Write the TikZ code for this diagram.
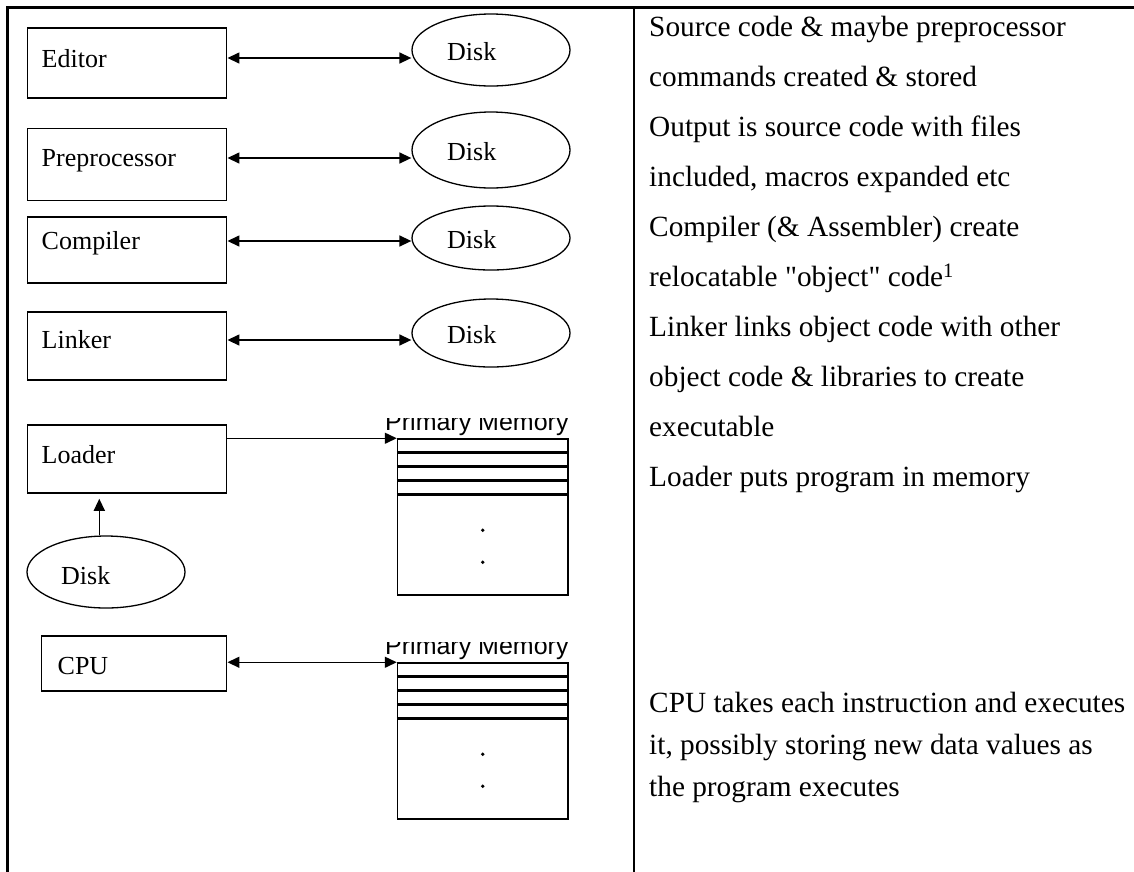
\documentclass[tikz,border=0pt]{standalone}
\usepackage{fontspec}
\setmainfont{Liberation Serif}
\newfontfamily\memfont{Liberation Sans}
\usetikzlibrary{arrows.meta,shapes.geometric}

\begin{document}
\begin{tikzpicture}[x=1pt,y=-1pt,
  frame/.style={line width=2.8pt, line cap=rect},
  stagebox/.style={draw, rectangle, line width=1.5pt, inner sep=0pt, minimum width=199pt},
  stagelabel/.style={anchor=base west, inner sep=0pt, font=\fontsize{26}{30}\selectfont},
  disk/.style={draw, ellipse, line width=1.3pt, inner sep=0pt, minimum width=158pt},
  disklabel/.style={anchor=base west, inner sep=0pt, font=\fontsize{26}{30}\selectfont},
  membox/.style={draw, rectangle, line width=1.5pt, inner sep=0pt, minimum width=170.5pt, minimum height=156pt},
  memrow/.style={line width=2.8pt},
  memlabel/.style={anchor=base west, inner sep=0pt, font=\memfont\fontsize{25}{28}\selectfont},
  bothway/.style={line width=1.5pt, {Triangle[length=12pt,width=11pt]}-{Triangle[length=12pt,width=11pt]}},
  oneway/.style={line width=1.5pt, -{Triangle[length=12pt,width=11pt]}},
  note/.style={anchor=base west, inner sep=0pt, font=\fontsize{29.3}{34}\selectfont}
]
\useasboundingbox (0,0) rectangle (1134,871);

% table frame: top rule, left rule and column divider
\draw[frame] (1140,7.5) -- (7.5,7.5) -- (7.5,880);
\draw[frame] (634,7.5) -- (634,880);

% ---------- stages ----------
\node[stagebox, minimum height=70pt] (ed)  at (127.2,63)   {};
\node[stagebox, minimum height=72pt] (pre) at (127.2,164.5) {};
\node[stagebox, minimum height=66pt] (cmp) at (127.2,250)  {};
\node[stagebox, minimum height=68pt] (lnk) at (127.2,346)  {};
\node[stagebox, minimum height=68pt] (ld)  at (127.2,459)  {};
\node[stagebox, minimum width=185pt, minimum height=55pt] (cpu) at (134.2,663.5) {};

\node[stagelabel] (edl)  at (41.5,67)    {Editor};
\node[stagelabel] (prel) at (41.5,166)   {Preprocessor};
\node[stagelabel] (cmpl) at (41.5,249.5) {Compiler};
\node[stagelabel] (lnkl) at (41.5,348)   {Linker};
\node[stagelabel] (ldl)  at (41.5,463)   {Loader};
\node[stagelabel] (cpul) at (57.5,674)   {CPU};

% ---------- disks ----------
\node[disk, minimum height=72pt] (dk1) at (491,50)  {};
\node[disk, minimum height=76pt] (dk2) at (491,150) {};
\node[disk, minimum height=64pt] (dk3) at (491,238) {};
\node[disk, minimum height=68pt] (dk4) at (491,333) {};
\node[disk, minimum height=72pt] (dk5) at (106,572) {};

\node[disklabel] (dk1l) at (447,60)  {Disk};
\node[disklabel] (dk2l) at (447,160) {Disk};
\node[disklabel] (dk3l) at (447,248) {Disk};
\node[disklabel] (dk4l) at (447,343) {Disk};
\node[disklabel] (dk5l) at (61,584)  {Disk};

% arrow heights
\coordinate (a1) at (0,58);
\coordinate (a2) at (0,158);
\coordinate (a3) at (0,241);
\coordinate (a4) at (0,340);
\coordinate (ax) at (99.3,0);

\draw[bothway] (ed.east  |- a1) -- (dk1.west |- a1);
\draw[bothway] (pre.east |- a2) -- (dk2.west |- a2);
\draw[bothway] (cmp.east |- a3) -- (dk3.west |- a3);
\draw[bothway] (lnk.east |- a4) -- (dk4.west |- a4);
\draw[oneway, shorten >=5pt] (dk5.north -| ax) -- (ld.south -| ax);

% ---------- primary memory ----------
\node[membox] (mem1) at (482.75,517) {};
\node[membox] (mem2) at (482.75,741) {};

\foreach \m in {mem1,mem2}{
  \foreach \k in {1,...,4}
    \draw[memrow] ([yshift=-\k*14pt]\m.north west) -- ([yshift=-\k*14pt]\m.north east);
  \fill ([yshift=-92pt]\m.north) circle (1.8pt);
  \fill ([yshift=-124pt]\m.north) circle (1.8pt);
}

\begin{scope}
  \clip (380,418) rectangle (590,438);
  \node[memlabel] (mem1l) at (385,430) {Primary Memory};
\end{scope}
\begin{scope}
  \clip (380,642) rectangle (590,662);
  \node[memlabel] (mem2l) at (385,654) {Primary Memory};
\end{scope}

\draw[oneway]  (ld.east  |- mem1.north west) -- (mem1.north west);
\draw[bothway] (cpu.east |- mem2.north west) -- (mem2.north west);

% ---------- description column ----------
\foreach \txt [count=\i] in {
  {Source code \& maybe preprocessor},
  {commands created \& stored},
  {Output is source code with files},
  {included, macros expanded etc},
  {Compiler (\& Assembler) create},
  {relocatable \textquotedbl object\textquotedbl\ code\textsuperscript{1}},
  {Linker links object code with other},
  {object code \& libraries to create},
  {executable},
  {Loader puts program in memory}}
  \node[note] (top\i) at (649,{36+50.1*(\i-1)}) {\txt};

\foreach \txt [count=\i] in {
  {CPU takes each instruction and executes},
  {it, possibly storing new data values as},
  {the program executes}}
  \node[note] (cpu\i) at (649,{712+42*(\i-1)}) {\txt};

\end{tikzpicture}
\end{document}
